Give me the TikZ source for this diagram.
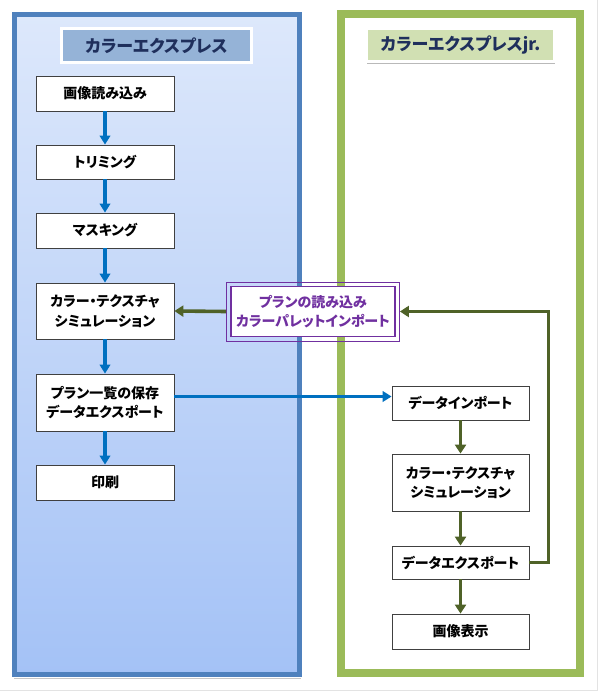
\documentclass[tikz,border=0pt]{standalone}
\usepackage{fontspec}
\setmainfont{Noto Sans CJK JP}[RawFeature=+palt]
\usetikzlibrary{arrows.meta,shadows}
\definecolor{panelblue}{HTML}{4F81BD}
\definecolor{panelgreen}{HTML}{9BBB59}
\definecolor{gradtop}{HTML}{DDE8FB}
\definecolor{gradbot}{HTML}{A4C2F6}
\definecolor{titleblue}{HTML}{95B3D7}
\definecolor{titlegreen}{HTML}{D1E0B3}
\definecolor{navy}{HTML}{1F2F5C}
\definecolor{arrowblue}{HTML}{0070C0}
\definecolor{arrowgreen}{HTML}{4F6228}
\definecolor{purp}{HTML}{7030A0}
\definecolor{boxborder}{HTML}{404040}
\tikzset{
  box/.style={draw=boxborder, fill=white, line width=0.8pt, minimum width=138pt,
    align=center, inner sep=0pt, font=\bfseries\fontsize{14}{19.5}\selectfont},
  titlebox/.style={draw=white, line width=3pt, minimum width=190pt, minimum height=34pt,
    inner sep=0pt, text=navy, font=\bfseries\fontsize{17}{19}\selectfont,
    general shadow={fill=gray!55, shadow xshift=0pt, shadow yshift=-1.8pt}},
  barrow/.style={draw=arrowblue, line width=3.2pt, -{Triangle[width=10.5pt,length=9pt]}},
  garrow/.style={draw=arrowgreen, line width=3.6pt, -{Triangle[width=11pt,length=9pt]}},
}
\begin{document}
\begin{tikzpicture}[x=1pt,y=-1pt]
\useasboundingbox (0,0) rectangle (599,692);
\fill[white] (0,0) rectangle (599,692);
\draw[gray!22, line width=1pt] (597.5,0) -- (597.5,690.5) -- (0,690.5);
% left panel
\draw[gray!45, line width=1.5pt] (14,678.5) -- (301,678.5);
\shade[top color=gradtop, bottom color=gradbot] (14.5,14.5) rectangle (299.5,674);
\draw[panelblue, line width=5pt] (14.5,14.5) rectangle (299.5,674);
% right panel
\draw[panelgreen, line width=8pt] (341,14) rectangle (580,673);
% titles
\node[titlebox, fill=titleblue] (t1) at (156.5,45.5) {カラーエクスプレス};
\node[titlebox, fill=titlegreen, minimum width=188pt, minimum height=33pt] (t2) at (460.5,45.5) {カラーエクスプレスjr.};
% left nodes
\node[box, minimum height=35pt] (l1) at (105,93.5) {画像読み込み};
\node[box, minimum height=34pt] (l2) at (105,162) {トリミング};
\node[box, minimum height=35pt] (l3) at (105,230.5) {マスキング};
\node[box, minimum height=56pt] (l4) at (105,311) {カラー・テクスチャ\\シミュレーション};
\node[box, minimum height=57pt] (l5) at (105,402.5) {プラン一覧の保存\\データエクスポート};
\node[box, minimum height=35pt] (l6) at (105,482.5) {印刷};
% right nodes
\node[box, minimum width=137pt, minimum height=34pt] (r1) at (460.5,403) {データインポート};
\node[box, minimum width=137pt, minimum height=57pt] (r2) at (460.5,482.5) {カラー・テクスチャ\\シミュレーション};
\node[box, minimum width=137pt, minimum height=33pt] (r3) at (460.5,562.5) {データエクスポート};
\node[box, minimum width=137pt, minimum height=35pt] (r4) at (460.5,631.5) {画像表示};
% purple box
\node[draw=purp, line width=1.8pt, fill=white, minimum width=164pt, minimum height=50pt,
  inner sep=0pt, align=center, text=purp, font=\bfseries\fontsize{14}{19.5}\selectfont]
  (p) at (313,311.5) {プランの読み込み\\カラーパレットインポート};
\draw[purp, line width=0.8pt] ([shift={(-3.5,-3.5)}]p.north west) rectangle ([shift={(3.5,3.5)}]p.south east);
% blue arrows
\draw[barrow] (l1) -- (l2);
\draw[barrow] (l2) -- (l3);
\draw[barrow] (l3) -- (l4);
\draw[barrow] (l4) -- (l5);
\draw[barrow] (l5) -- (l6);
\draw[barrow] ([yshift=6pt]l5.east) -- ([yshift=6pt]l5.east -| r1.west);
% green arrows
\draw[garrow] (r1) -- (r2);
\draw[garrow] (r2) -- (r3);
\draw[garrow] (r3) -- (r4);
\draw[garrow] (r3.east) -- ++(19,0) |- ([shift={(4,0)}]p.east);
\draw[garrow] ([shift={(-4,0)}]p.west) -- (l4.east);
\end{tikzpicture}
\end{document}
